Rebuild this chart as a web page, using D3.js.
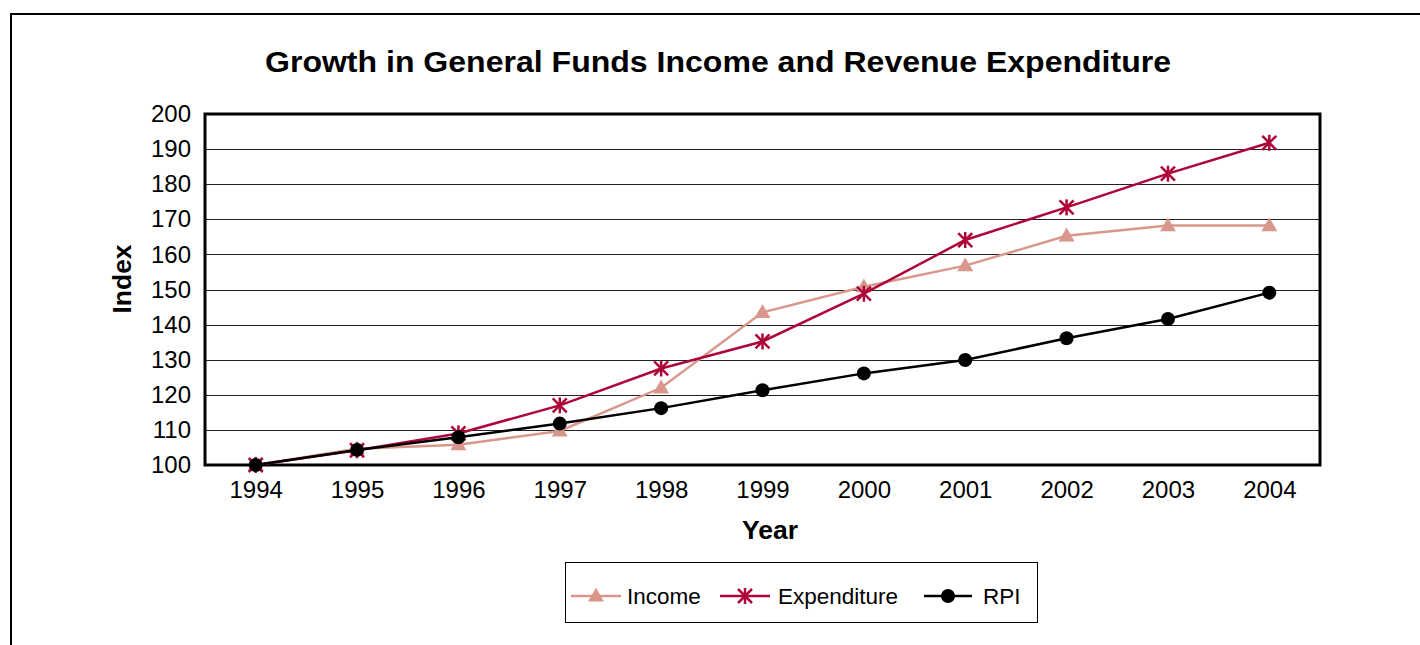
<!DOCTYPE html>
<html>
<head>
<meta charset="utf-8">
<script src="https://cdn.jsdelivr.net/npm/d3@7"></script>
<style>
  html, body { margin: 0; padding: 0; background: #fff; }
  svg { display: block; font-family: "Liberation Sans", Arial, sans-serif; }
</style>
</head>
<body>
<svg id="chart" width="1420" height="645"></svg>
<script>
const years = ["1994","1995","1996","1997","1998","1999","2000","2001","2002","2003","2004"];
const income = [100, 104.6, 105.8, 109.7, 122.0, 143.5, 150.8, 156.8, 165.3, 168.2, 168.2];
const expenditure = [100, 104.2, 109.0, 117.0, 127.5, 135.2, 148.8, 164.1, 173.4, 183.0, 191.8];
const rpi = [100, 104.3, 107.9, 111.8, 116.2, 121.3, 126.1, 129.9, 136.1, 141.6, 149.1];
const yTicks = [100, 110, 120, 130, 140, 150, 160, 170, 180, 190, 200];
const seriesNames = ["Income", "Expenditure", "RPI"];

const colors = { Income: "#d9978b", Expenditure: "#ad0538", RPI: "#000000" };
const series = [
  { name: "Income", values: income, marker: "triangle" },
  { name: "Expenditure", values: expenditure, marker: "asterisk" },
  { name: "RPI", values: rpi, marker: "circle" }
];

const svg = d3.select("#chart");
const plot = { left: 205, top: 114, right: 1320, bottom: 465 };

// outer frame
svg.append("rect").attr("x", 11).attr("y", 14).attr("width", 1500).attr("height", 800)
  .attr("fill", "#fff").attr("stroke", "#000").attr("stroke-width", 2);

const x = d3.scalePoint().domain(years).range([plot.left, plot.right]).padding(0.5);
const y = d3.scaleLinear().domain([100, 200]).range([plot.bottom, plot.top]);

// title
svg.append("text").attr("x", 265).attr("y", 72)
  .attr("font-size", 29).attr("font-weight", "bold").attr("fill", "#000")
  .attr("textLength", 906).attr("lengthAdjust", "spacingAndGlyphs")
  .text("Growth in General Funds Income and Revenue Expenditure");

// gridlines
svg.append("g").selectAll("line").data(yTicks.slice(1, -1)).join("line")
  .attr("x1", plot.left).attr("x2", plot.right)
  .attr("y1", d => Math.round(y(d)) + 0.5).attr("y2", d => Math.round(y(d)) + 0.5)
  .attr("stroke", "#222").attr("stroke-width", 1);

// y axis labels
const yAxis = d3.axisLeft(y).tickValues(yTicks).tickSize(0).tickPadding(14);
const gy = svg.append("g").attr("transform", `translate(${plot.left},0)`).call(yAxis);
gy.select(".domain").remove();
gy.selectAll("text").attr("font-size", 24).attr("fill", "#000")
  .attr("font-family", "'Liberation Sans', Arial, sans-serif");

// x axis labels
const xAxis = d3.axisBottom(x).tickSize(0).tickPadding(16);
const gx = svg.append("g").attr("transform", `translate(0,${plot.bottom})`).call(xAxis);
gx.select(".domain").remove();
gx.selectAll("text").attr("font-size", 24).attr("fill", "#000")
  .attr("font-family", "'Liberation Sans', Arial, sans-serif");

// plot frame
svg.append("rect").attr("x", plot.left).attr("y", plot.top)
  .attr("width", plot.right - plot.left).attr("height", plot.bottom - plot.top)
  .attr("fill", "none").attr("stroke", "#000").attr("stroke-width", 3);

// axis titles
svg.append("text").attr("x", 770).attr("y", 539).attr("text-anchor", "middle")
  .attr("font-size", 26.5).attr("font-weight", "bold").text("Year");
svg.append("text").attr("transform", "translate(131,279) rotate(-90)").attr("text-anchor", "middle")
  .attr("font-size", 26.5).attr("font-weight", "bold").text("Index");

// marker drawing
function drawMarker(g, type, color, cx, cy) {
  if (type === "triangle") {
    g.append("path").attr("d", d3.symbol().type(d3.symbolTriangle).size(110)())
      .attr("transform", `translate(${cx},${cy + 1})`).attr("fill", color);
  } else if (type === "circle") {
    g.append("circle").attr("cx", cx).attr("cy", cy).attr("r", 7).attr("fill", color);
  } else {
    const r = 7;
    const mg = g.append("g").attr("transform", `translate(${cx},${cy})`)
      .attr("stroke", color).attr("stroke-width", 2.5);
    mg.append("line").attr("x1", -r).attr("x2", r).attr("y1", -r).attr("y2", r);
    mg.append("line").attr("x1", -r).attr("x2", r).attr("y1", r).attr("y2", -r);
    mg.append("line").attr("x1", 0).attr("x2", 0).attr("y1", -r - 1).attr("y2", r + 1);
  }
}

const line = d3.line().x((d, i) => x(years[i])).y(d => y(d));
series.forEach(s => {
  const g = svg.append("g");
  g.append("path").datum(s.values).attr("d", line).attr("fill", "none")
    .attr("stroke", colors[s.name]).attr("stroke-width", 2.5);
  s.values.forEach((v, i) => drawMarker(g, s.marker, colors[s.name], x(years[i]), y(v)));
});

// legend
svg.append("rect").attr("x", 565.5).attr("y", 562.5).attr("width", 472).attr("height", 60)
  .attr("fill", "#fff").attr("stroke", "#000").attr("stroke-width", 1);
const legendPos = [{ x1: 571, x2: 621, tx: 627 }, { x1: 720, x2: 770, tx: 778 }, { x1: 924, x2: 972, tx: 983 }];
series.forEach((s, i) => {
  const p = legendPos[i];
  const ly = 596;
  const g = svg.append("g");
  g.append("line").attr("x1", p.x1).attr("x2", p.x2).attr("y1", ly).attr("y2", ly)
    .attr("stroke", colors[s.name]).attr("stroke-width", 2.5);
  drawMarker(g, s.marker, colors[s.name], (p.x1 + p.x2) / 2, ly);
  g.append("text").attr("x", p.tx).attr("y", ly + 8).attr("font-size", 22.5).text(seriesNames[i]);
});
</script>
</body>
</html>
